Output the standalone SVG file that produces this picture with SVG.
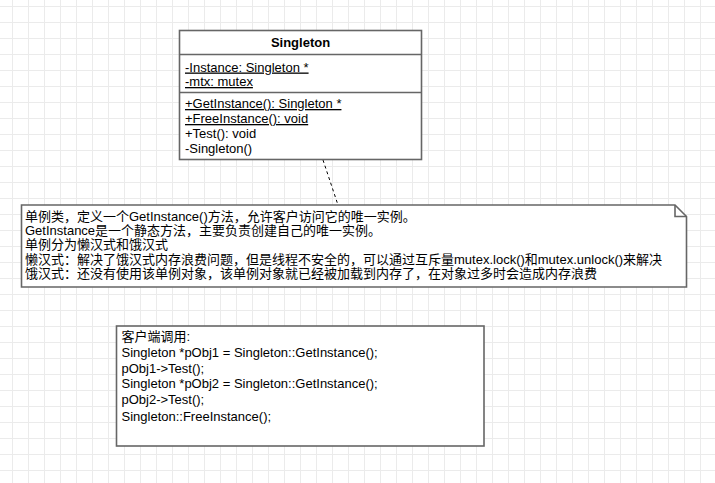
<svg xmlns="http://www.w3.org/2000/svg" width="715" height="483" viewBox="0 0 715 483">
<style>
.box{fill:#fff;stroke:#666;stroke-width:1.6}
.div{stroke:#666;stroke-width:1.6;fill:none}
.t{font-family:"Liberation Sans","Noto Sans CJK SC",Arial,sans-serif;font-size:13px;fill:#000}
.b{font-weight:bold}
.u{text-decoration:underline}
.conn{stroke:#000;stroke-width:1;stroke-dasharray:3 3;fill:none}
</style>
<defs>
<pattern id="grid" patternUnits="userSpaceOnUse" x="12" y="6" width="16" height="16">
<path d="M0 0.5H16M0.5 0V16" stroke="#ebebeb" stroke-width="1" fill="none"/>
</pattern>
</defs>
<rect width="715" height="483" fill="#fff"/>
<rect width="715" height="483" fill="url(#grid)"/>
<g id="connectors">
<path class="conn" d="M323 160L338 205"/>
</g>
<g id="singleton">
<rect class="box" x="179.5" y="30.5" width="242" height="129"/>
<path class="div" d="M179.5 54.5H421.5M179.5 92.5H421.5"/>
<text class="t b" x="300.5" y="46.5" text-anchor="middle">Singleton</text>
<text class="t u" x="185" y="71.5">-Instance: Singleton *</text>
<text class="t u" x="185" y="86">-mtx: mutex</text>
<text class="t u" x="185" y="108">+GetInstance(): Singleton *</text>
<text class="t u" x="185" y="123">+FreeInstance(): void</text>
<text class="t" x="185" y="138">+Test(): void</text>
<text class="t" x="185" y="153">-Singleton()</text>
</g>
<g id="note">
<path class="box" d="M21.5 205H675L686.5 216.5V287H21.5Z"/>
<path class="div" d="M675 205V216.5H686.5" stroke-width="1"/>
<text class="t" x="25" y="220.6">单例类，定义一个GetInstance()方法，允许客户访问它的唯一实例。</text>
<text class="t" x="25" y="235">GetInstance是一个静态方法，主要负责创建自己的唯一实例。</text>
<text class="t" x="25" y="249.4">单例分为懒汉式和饿汉式</text>
<text class="t" x="25" y="263.8">懒汉式：解决了饿汉式内存浪费问题，但是线程不安全的，可以通过互斥量mutex.lock()和mutex.unlock()来解决</text>
<text class="t" x="25" y="278.2">饿汉式：还没有使用该单例对象，该单例对象就已经被加载到内存了，在对象过多时会造成内存浪费</text>
</g>
<g id="client">
<rect class="box" x="116.5" y="326" width="367.5" height="120"/>
<text class="t" x="121.5" y="340.7">客户端调用:</text>
<text class="t" x="121.5" y="356.7">Singleton *pObj1 = Singleton::GetInstance();</text>
<text class="t" x="121.5" y="372.5">pObj1-&gt;Test();</text>
<text class="t" x="121.5" y="388.2">Singleton *pObj2 = Singleton::GetInstance();</text>
<text class="t" x="121.5" y="404">pObj2-&gt;Test();</text>
<text class="t" x="121.5" y="420.5">Singleton::FreeInstance();</text>
</g>
</svg>
